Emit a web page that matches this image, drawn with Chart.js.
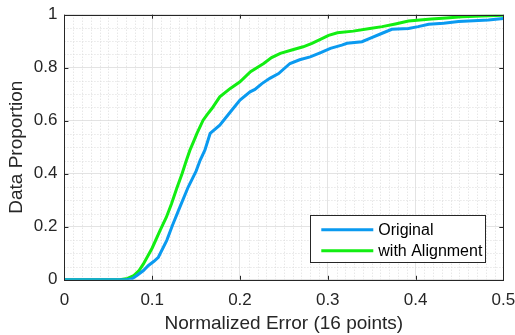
<!DOCTYPE html>
<html>
<head>
<meta charset="utf-8">
<script src="https://cdn.jsdelivr.net/npm/chart.js@4.4.0/dist/chart.umd.min.js"></script>
<style>
  html, body { margin: 0; padding: 0; background: #fff; }
  #wrap { width: 515px; height: 335px; }
</style>
</head>
<body>
<div id="wrap"><canvas id="cdfChart"></canvas></div>
<script>
// Data
const seriesNames = ['Original', 'with Alignment'];

const origX = [0, 0.070, 0.077, 0.0825, 0.090, 0.0957, 0.102, 0.107, 0.1166, 0.123, 0.130, 0.141, 0.150, 0.1546, 0.160, 0.166, 0.177, 0.189, 0.200, 0.2115, 0.217, 0.225, 0.234, 0.244, 0.257, 0.268, 0.280, 0.292, 0.303, 0.316, 0.322, 0.339, 0.348, 0.362, 0.373, 0.392, 0.403, 0.415, 0.432, 0.449, 0.466, 0.483, 0.5];
const origY = [0, 0, 0.004, 0.016, 0.035, 0.054, 0.07, 0.085, 0.149, 0.205, 0.262, 0.35, 0.41, 0.451, 0.489, 0.552, 0.583, 0.633, 0.678, 0.709, 0.718, 0.74, 0.76, 0.778, 0.816, 0.83, 0.841, 0.857, 0.873, 0.885, 0.892, 0.898, 0.911, 0.93, 0.945, 0.948, 0.955, 0.964, 0.968, 0.974, 0.977, 0.98, 0.986];

const alignX = [0, 0.063, 0.072, 0.079, 0.085, 0.090, 0.100, 0.109, 0.116, 0.122, 0.128, 0.134, 0.139, 0.143, 0.147, 0.151, 0.158, 0.163, 0.168, 0.177, 0.189, 0.200, 0.212, 0.227, 0.236, 0.246, 0.259, 0.272, 0.282, 0.291, 0.301, 0.311, 0.329, 0.348, 0.362, 0.377, 0.392, 0.405, 0.418, 0.435, 0.453, 0.475, 0.5];
const alignY = [0, 0, 0.005, 0.016, 0.035, 0.06, 0.12, 0.186, 0.235, 0.287, 0.345, 0.40, 0.451, 0.489, 0.52, 0.552, 0.602, 0.625, 0.646, 0.69, 0.722, 0.747, 0.785, 0.816, 0.838, 0.854, 0.867, 0.879, 0.892, 0.906, 0.922, 0.932, 0.938, 0.948, 0.955, 0.965, 0.976, 0.980, 0.984, 0.988, 0.992, 0.995, 0.998];

const xTicks = [0, 0.1, 0.2, 0.3, 0.4, 0.5];
const yTicks = [0, 0.2, 0.4, 0.6, 0.8, 1];

const axisColor = '#262626';
const fontFamily = '"Liberation Sans", Arial, sans-serif';

function toPoints(xs, ys) {
    return xs.map((x, i) => ({ x: x, y: ys[i] }));
}

// Minor dotted grid, box frame, inward ticks and the legend box (MATLAB look)
const frameGrid = {
    id: 'frameGrid',
    beforeDatasetsDraw(chart) {
        const { ctx, chartArea: a, scales: { x, y } } = chart;
        ctx.save();
        ctx.lineWidth = 1;
        ctx.strokeStyle = '#dcdcdc';
        ctx.setLineDash([1, 2]);
        for (let i = 1; i < 50; i++) {
            if (i % 10 === 0) continue;
            const px = Math.round(x.getPixelForValue(i / 100)) + 0.5;
            ctx.beginPath(); ctx.moveTo(px, a.top); ctx.lineTo(px, a.bottom); ctx.stroke();
        }
        for (let i = 1; i < 20; i++) {
            if (i % 4 === 0) continue;
            const py = Math.round(y.getPixelForValue(i / 20)) + 0.5;
            ctx.beginPath(); ctx.moveTo(a.left, py); ctx.lineTo(a.right, py); ctx.stroke();
        }
        ctx.restore();
    },
    afterDatasetsDraw(chart) {
        const { ctx, chartArea: a, scales: { x, y } } = chart;
        ctx.save();
        ctx.strokeStyle = axisColor;
        ctx.lineWidth = 1;
        const t = 4;
        xTicks.forEach(v => {
            const px = Math.round(x.getPixelForValue(v)) + 0.5;
            ctx.beginPath(); ctx.moveTo(px, a.bottom); ctx.lineTo(px, a.bottom - t); ctx.stroke();
            ctx.beginPath(); ctx.moveTo(px, a.top); ctx.lineTo(px, a.top + t); ctx.stroke();
        });
        yTicks.forEach(v => {
            const py = Math.round(y.getPixelForValue(v)) + 0.5;
            ctx.beginPath(); ctx.moveTo(a.left, py); ctx.lineTo(a.left + t, py); ctx.stroke();
            ctx.beginPath(); ctx.moveTo(a.right, py); ctx.lineTo(a.right - t, py); ctx.stroke();
        });
        ctx.strokeRect(Math.round(a.left) + 0.5, Math.round(a.top) + 0.5,
            Math.round(a.right - a.left), Math.round(a.bottom - a.top));
        ctx.restore();
    },
    afterDraw(chart) {
        const { ctx, chartArea: a } = chart;
        const bx = a.right - 193, by = a.bottom - 65, bw = 175, bh = 47;
        ctx.save();
        ctx.fillStyle = '#fff';
        ctx.fillRect(bx, by, bw, bh);
        ctx.strokeStyle = axisColor;
        ctx.lineWidth = 1;
        ctx.strokeRect(Math.round(bx) + 0.5, Math.round(by) + 0.5, bw, bh);
        ctx.font = '16px ' + fontFamily;
        ctx.textBaseline = 'middle';
        chart.data.datasets.forEach((ds, i) => {
            const ly = by + 15 + i * 21;
            ctx.strokeStyle = ds.borderColor;
            ctx.lineWidth = 3;
            ctx.beginPath(); ctx.moveTo(bx + 11, ly); ctx.lineTo(bx + 63, ly); ctx.stroke();
            ctx.fillStyle = '#000';
            ctx.fillText(ds.label, bx + 68, ly + 1);
        });
        ctx.restore();
    }
};

new Chart(document.getElementById('cdfChart'), {
    type: 'line',
    data: {
        datasets: [{
            label: seriesNames[0],
            data: toPoints(origX, origY),
            borderColor: '#0a9af0',
            borderWidth: 3,
            pointRadius: 0,
            tension: 0
        }, {
            label: seriesNames[1],
            data: toPoints(alignX, alignY),
            borderColor: '#12ee12',
            borderWidth: 3,
            pointRadius: 0,
            tension: 0
        }]
    },
    options: {
        responsive: true,
        maintainAspectRatio: false,
        animation: false,
        layout: { padding: { top: 0, right: 0, left: 5, bottom: 0 } },
        plugins: {
            legend: { display: false },
            tooltip: { enabled: false }
        },
        scales: {
            x: {
                type: 'linear',
                min: 0,
                max: 0.5,
                afterBuildTicks: scale => { scale.ticks = xTicks.map(v => ({ value: v })); },
                afterFit: scale => { scale.paddingLeft = 0; scale.paddingRight = 11.7; },
                ticks: {
                    color: axisColor,
                    font: { family: fontFamily, size: 17 },
                    padding: 10,
                    maxRotation: 0,
                    callback: v => String(v)
                },
                grid: { color: '#e3e3e3', drawTicks: false },
                border: { display: false },
                title: {
                    display: true,
                    text: 'Normalized Error (16 points)',
                    color: axisColor,
                    font: { family: fontFamily, size: 19 },
                    padding: { top: -8, bottom: 0 }
                }
            },
            y: {
                type: 'linear',
                min: 0,
                max: 1,
                afterBuildTicks: scale => { scale.ticks = yTicks.map(v => ({ value: v })); },
                afterFit: scale => { scale.paddingTop = 14.7; scale.paddingBottom = 0; },
                ticks: {
                    color: axisColor,
                    font: { family: fontFamily, size: 17 },
                    padding: 7,
                    callback: v => String(v)
                },
                grid: { color: '#e3e3e3', drawTicks: false },
                border: { display: false },
                title: {
                    display: true,
                    text: 'Data Proportion',
                    color: axisColor,
                    font: { family: fontFamily, size: 19 },
                    padding: { top: 0, bottom: -1 }
                }
            }
        }
    },
    plugins: [frameGrid]
});
</script>
</body>
</html>
